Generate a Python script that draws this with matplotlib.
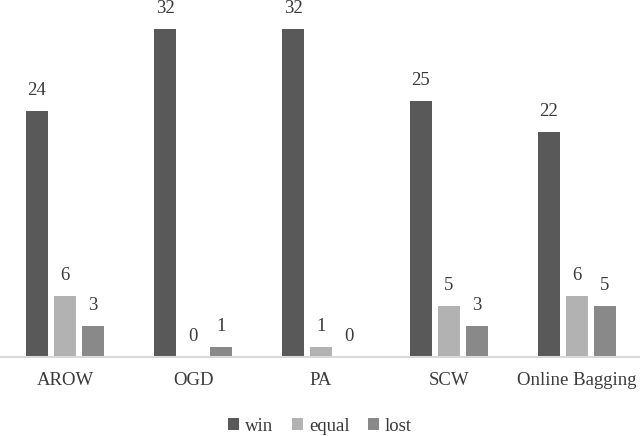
import matplotlib
matplotlib.use("Agg")
import matplotlib.pyplot as plt
import numpy as np
from matplotlib.patches import Patch

categories = ["AROW", "OGD", "PA", "SCW", "Online Bagging"]
series_names = ["win", "equal", "lost"]
win = [24, 32, 32, 25, 22]
equal = [6, 0, 1, 5, 6]
lost = [3, 1, 0, 3, 5]
colors = ["#595959", "#b2b2b2", "#898989"]

plt.rcParams['font.family'] = ['Liberation Serif', 'DejaVu Serif']

fig = plt.figure(figsize=(6.4, 4.36), dpi=100)
ax = fig.add_axes([1/640, (436-357)/436, 1.0, 357/436])

x = np.arange(len(categories))
bw = 22/128
step = 28/128
data = [win, equal, lost]
for i, (vals, c) in enumerate(zip(data, colors)):
    pos = x + (i - 1) * step
    ax.bar(pos, vals, width=bw, color=c, zorder=2)
    for xi, v in zip(pos, vals):
        ax.annotate(str(v), (xi, v), xytext=(0, 11.5), textcoords='offset points',
                    ha='center', va='baseline', fontsize=13.5, color='#3a3a3a')

ax.set_xlim(-0.5, 4.5)
ax.set_ylim(0, 34.83)
ax.set_xticks(x)
ax.set_xticklabels(categories, fontsize=13.5, color='#3a3a3a')
ax.tick_params(axis='x', length=0, pad=10.5)
ax.set_yticks([])
for s in ['top', 'right', 'left']:
    ax.spines[s].set_visible(False)
ax.spines['bottom'].set_color('#d9d9d9')
ax.spines['bottom'].set_linewidth(1.5)
ax.patch.set_alpha(0)

handles = [Patch(facecolor=c, label=n) for c, n in zip(colors, series_names)]
fig.legend(handles=handles, loc='center', bbox_to_anchor=(0.5, 0.022), ncol=3,
           frameon=False, fontsize=13.5, handlelength=0.6, handleheight=0.6,
           handletextpad=0.3, columnspacing=1.0, labelcolor='#3a3a3a')

fig.savefig("out.png", dpi=100)
